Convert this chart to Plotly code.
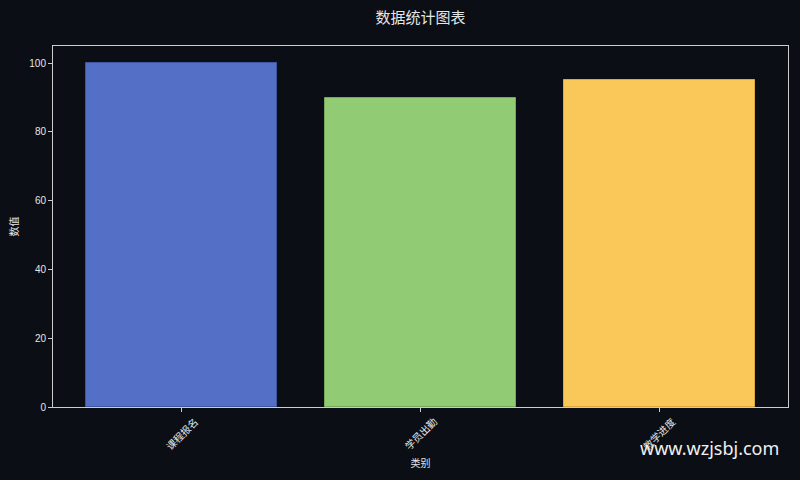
import plotly.graph_objects as go

categories = ["课程报名", "学员出勤", "教学进度"]
values = [100, 90, 95]
colors = ["#5470c6", "#91cc75", "#fac858"]
edge_colors = ["#3f56a0", "#74a85c", "#d9aa40"]

bg = "#0b0e14"
fg = "#e6e6e6"
font_family = "Liberation Sans, Noto Sans CJK SC, sans-serif"

fig = go.Figure()
fig.add_trace(go.Bar(
    x=list(range(len(categories))), y=values,
    width=0.8,
    marker=dict(color=colors, line=dict(color=edge_colors, width=1)),
    showlegend=False,
))

fig.update_layout(
    width=800, height=480,
    paper_bgcolor=bg, plot_bgcolor=bg,
    margin=dict(l=53, r=12, t=46, b=73),
    font=dict(family=font_family, color=fg, size=10),
    title=dict(text="数据统计图表", xref="paper", x=0.5, xanchor="center",
               y=0.962, yanchor="middle",
               font=dict(size=15, color=fg, family="Noto Sans CJK SC, sans-serif")),
    bargap=0,
)

fig.update_xaxes(
    range=[-0.54, 2.54],
    tickmode="array", tickvals=list(range(len(categories))),
    showticklabels=False,
    ticks="outside", ticklen=4, tickcolor="#cccccc",
    showline=True, linecolor="#cccccc", linewidth=1, mirror=True,
    showgrid=False, zeroline=False,
    title=dict(text="类别", standoff=48, font=dict(size=10)),
)
fig.update_yaxes(
    range=[0, 105],
    tickvals=[0, 20, 40, 60, 80, 100],
    ticks="outside", ticklen=4, tickcolor="#cccccc",
    showline=True, linecolor="#cccccc", linewidth=1, mirror=True,
    showgrid=False, zeroline=False,
    title=dict(text="数值", standoff=8, font=dict(size=10)),
    tickfont=dict(size=10),
)

# rotated category labels, centred under each tick
for i, cat in enumerate(categories):
    fig.add_annotation(
        text=cat, x=i, xref="x", y=0, yref="paper",
        xanchor="center", yanchor="middle", yshift=-27,
        textangle=-45, showarrow=False, font=dict(size=10, color=fg),
    )

# watermark in the bottom right corner
fig.add_annotation(
    text="www.wzjsbj.com", xref="paper", yref="paper",
    x=0.99, y=-0.113, xanchor="right", yanchor="middle",
    showarrow=False, font=dict(size=18, color="#f0f0f0", family="Noto Sans, sans-serif"),
)

fig.write_html("out.html", config={"displayModeBar": False},
               post_script="document.body.style.margin='0';")
